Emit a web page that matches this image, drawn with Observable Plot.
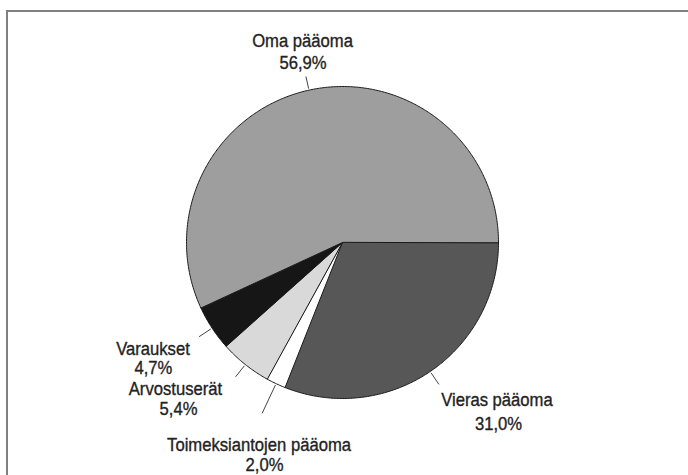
<!DOCTYPE html>
<html>
<head>
<meta charset="utf-8">
<script src="https://cdn.jsdelivr.net/npm/d3@7"></script>
<script src="https://cdn.jsdelivr.net/npm/@observablehq/plot@0.6"></script>
<style>
  html, body { margin: 0; padding: 0; background: #fff; }
  #wrap { position: relative; width: 688px; height: 475px; overflow: hidden; }
  #box { position: absolute; left: 6px; top: 10px; right: -10px; bottom: -10px;
         border-top: 2px solid #808080; border-left: 2px solid #808080; }
  #chart { position: absolute; left: 0; top: 0; }
  svg { display: block; }
</style>
</head>
<body>
<div id="wrap"><div id="box"></div><div id="chart"></div></div>
<script>
// ---- data (clockwise from 3 o'clock) ----
const categories = ["Vieras pääoma", "Toimeksiantojen pääoma", "Arvostuserät", "Varaukset", "Oma pääoma"];
const shares = [31.0, 2.0, 5.4, 4.7, 56.9];
const shareLabels = ["31,0%", "2,0%", "5,4%", "4,7%", "56,9%"];

// ---- styling / layout ----
const sliceColors = ["#575757", "#ffffff", "#d9d9d9", "#161616", "#9e9e9e"];
const leaderOuter = [1.10, 1.21, 1.10, 1.10, 1.09];
// label positions in pie-radius units (baselines of name line and value line)
const namePos  = [[0.99, 1.045], [-0.535, 1.339], [-1.071, 0.978], [-1.215, 0.718], [-0.256, -1.252]];
const valuePos = [[1.00, 1.205], [-0.50, 1.462], [-1.051, 1.105], [-1.212, 0.845], [-0.253, -1.113]];
const textSqueeze = 0.9; // horizontal condensing of the label font

const pie = d3.pie().sort(null).startAngle(Math.PI / 2).endAngle(Math.PI / 2 + 2 * Math.PI);
const arcs = pie(shares);
const pt = (a, r) => [r * Math.sin(a), -r * Math.cos(a)];

const slices = arcs.map((d, i) => {
  const n = Math.max(4, Math.ceil((d.endAngle - d.startAngle) / 0.01));
  const ring = [[0, 0]];
  for (let k = 0; k <= n; k++) ring.push(pt(d.startAngle + (d.endAngle - d.startAngle) * k / n, 1));
  ring.push([0, 0]);
  return {type: "Feature", properties: {name: categories[i]}, geometry: {type: "Polygon", coordinates: [ring]}};
});

const leaders = arcs.map((d, i) => {
  const m = (d.startAngle + d.endAngle) / 2;
  const [x1, y1] = pt(m, 1.01), [x2, y2] = pt(m, leaderOuter[i]);
  return {x1, y1, x2, y2};
});

const names = categories.map((c, i) => ({text: c, x: namePos[i][0], y: namePos[i][1]}));
const values = shareLabels.map((c, i) => ({text: c, x: valuePos[i][0], y: valuePos[i][1]}));

const font = '"Liberation Sans", Arial, sans-serif';
const textStyle = {lineAnchor: "bottom", textAnchor: "middle", fontFamily: font, fontSize: 18.5,
  fill: "#222", stroke: "#222", strokeWidth: 0.35, className: "lbl"};

const chart = Plot.plot({
  width: 688,
  height: 475,
  marginLeft: 186,
  marginRight: 190,
  marginTop: 86,
  marginBottom: 77,
  projection: {
    type: "identity",
    clip: false,
    domain: {type: "Polygon", coordinates: [[[-1, -1], [1, -1], [1, 1], [-1, 1], [-1, -1]]]}
  },
  color: {type: "categorical", domain: categories, range: sliceColors},
  style: {background: "transparent"},
  marks: [
    Plot.geo(slices, {fill: d => d.properties.name, stroke: "#1a1a1a", strokeWidth: 1, strokeLinejoin: "round"}),
    Plot.link(leaders, {x1: "x1", y1: "y1", x2: "x2", y2: "y2", stroke: "#444", strokeWidth: 1, curve: "linear"}),
    Plot.text(names, {x: "x", y: "y", text: "text", ...textStyle}),
    Plot.text(values, {x: "x", y: "y", text: "text", ...textStyle})
  ]
});

// condense the label glyphs horizontally (keeps each label centred on its anchor)
chart.querySelectorAll(".lbl text").forEach(t => {
  const tr = t.getAttribute("transform");
  if (tr) {
    t.setAttribute("transform", tr + ` scale(${textSqueeze},1)`);
  } else {
    const x = +t.getAttribute("x") || 0, y = +t.getAttribute("y") || 0;
    t.setAttribute("transform", `translate(${x},${y}) scale(${textSqueeze},1)`);
    t.setAttribute("x", 0); t.setAttribute("y", 0);
  }
});
document.getElementById("chart").appendChild(chart);
</script>
</body>
</html>
